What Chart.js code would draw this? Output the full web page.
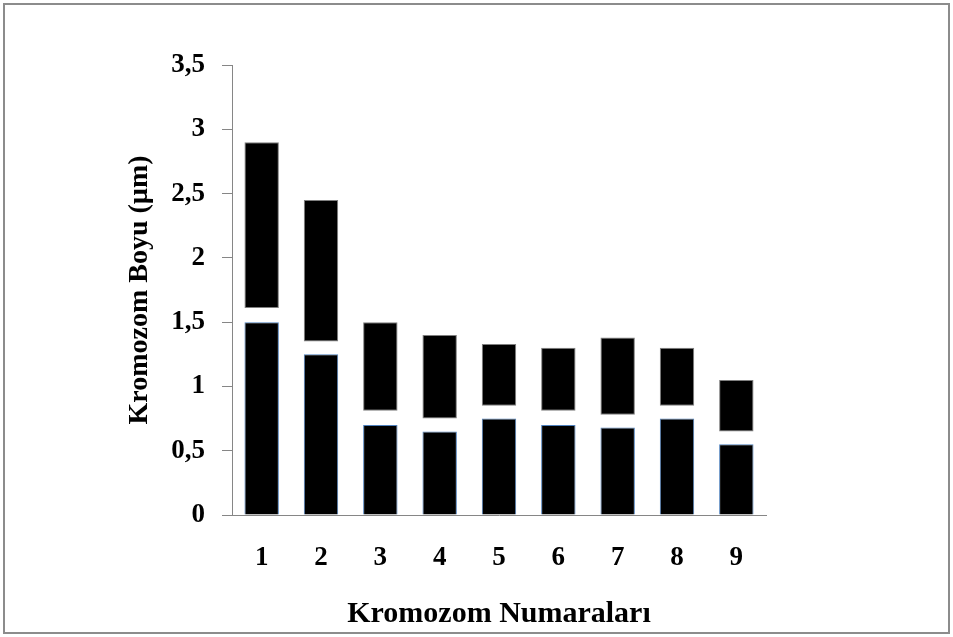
<!DOCTYPE html>
<html>
<head>
<meta charset="utf-8">
<script src="https://cdn.jsdelivr.net/npm/chart.js@4/dist/chart.umd.min.js"></script>
<style>
  body { margin: 0; background: #fff; }
  #chart { position: absolute; left: 0; top: 0; }
  .frame {
    position: absolute; left: 3px; top: 3px; width: 947px; height: 631px;
    box-sizing: border-box; border: 2px solid #8c8c8c; pointer-events: none;
  }
</style>
</head>
<body>
<canvas id="chart" width="953" height="637"></canvas>
<div class="frame"></div>
<script>
// chromosome numbers
var categories = ["1", "2", "3", "4", "5", "6", "7", "8", "9"];
// lower (short arm) segment, from 0
var shortArm = [1.5, 1.25, 0.7, 0.65, 0.75, 0.7, 0.68, 0.75, 0.55];
// upper (long arm) segment, floating from start to end
var longArmStart = [1.61, 1.35, 0.81, 0.75, 0.85, 0.81, 0.78, 0.85, 0.65];
var longArmEnd = [2.9, 2.45, 1.5, 1.4, 1.33, 1.3, 1.38, 1.3, 1.05];
var yTickLabels = ["0", "0,5", "1", "1,5", "2", "2,5", "3", "3,5"];

var serif = "'Liberation Serif', 'Times New Roman', serif";
var axisGray = "#868686";

var data = {
  labels: categories,
  datasets: [
    {
      label: "short",
      data: shortArm,
      backgroundColor: "#000",
      borderColor: "#4f81bd",
      borderWidth: { left: 1, right: 1, top: 1, bottom: 0 },
      borderSkipped: false,
      grouped: false,
      barPercentage: 0.58,
      categoryPercentage: 1,
    },
    {
      label: "long",
      data: longArmStart.map((s, i) => [s, longArmEnd[i]]),
      backgroundColor: "#000",
      borderColor: "#7f7f7f",
      borderWidth: 1,
      borderSkipped: false,
      grouped: false,
      barPercentage: 0.58,
      categoryPercentage: 1,
    },
  ],
};

var config = {
  type: "bar",
  data: data,
  options: {
    responsive: false,
    animation: false,
    layout: { padding: { left: 110, top: 65, right: 187, bottom: 0 } },
    plugins: { legend: { display: false }, tooltip: { enabled: false } },
    scales: {
      x: {
        offset: true,
        grid: { display: true, drawOnChartArea: false, drawTicks: false },
        border: { display: true, color: axisGray, width: 1 },
        ticks: {
          color: "#000",
          padding: 27,
          font: { family: serif, size: 27, weight: "bold" },
        },
        title: {
          display: true,
          text: "Kromozom Numaraları",
          color: "#000",
          padding: { top: 0, bottom: 5 },
          font: { family: serif, size: 30, weight: "bold" },
        },
        afterFit: (scale) => { scale.height = 122; },
      },
      y: {
        min: 0,
        max: 3.5,
        ticks: {
          stepSize: 0.5,
          color: "#000",
          padding: 17,
          font: { family: serif, size: 27, weight: "bold" },
          callback: (value, index) => yTickLabels[index],
        },
        grid: { drawOnChartArea: false, drawTicks: true, tickLength: 10, color: axisGray },
        border: { display: true, color: axisGray, width: 1 },
        title: {
          display: true,
          text: "Kromozom Boyu (µm)",
          color: "#000",
          padding: { top: 13, bottom: 0 },
          font: { family: serif, size: 28, weight: "bold" },
        },
        afterFit: (scale) => { scale.width = 122; },
      },
    },
  },
};

myChart = new Chart(document.getElementById("chart"), config);
</script>
</body>
</html>
